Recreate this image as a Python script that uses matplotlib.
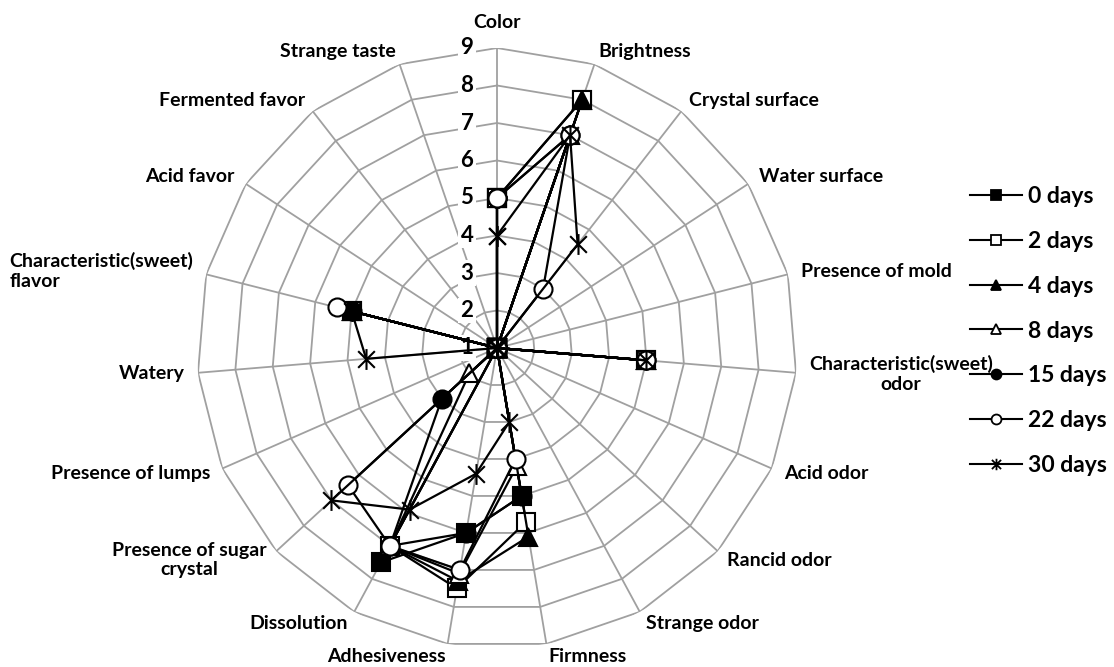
import numpy as np
import matplotlib
matplotlib.use("Agg")
import matplotlib.pyplot as plt
from matplotlib.path import Path
from matplotlib.lines import Line2D

plt.rcParams['font.family'] = ['Lato', 'DejaVu Sans']
plt.rcParams['font.weight'] = 'bold'

# attributes, clockwise from the top
categories = ["Color", "Brightness", "Crystal surface", "Water surface",
              "Presence of mold", "Characteristic(sweet)\nodor", "Acid odor",
              "Rancid odor", "Strange odor", "Firmness", "Adhesiveness",
              "Dissolution", "Presence of sugar\ncrystal", "Presence of lumps",
              "Watery", "Characteristic(sweet)\nflavor", "Acid favor",
              "Fermented favor", "Strange taste"]

d0 = [5, 8, 1, 1, 1, 5, 1, 1, 1, 5.0, 6.0, 7.5, 1.0, 1, 1.0, 5.0, 1, 1, 1]
d2 = [5, 8, 1, 1, 1, 5, 1, 1, 1, 5.7, 7.5, 7.0, 1.0, 1, 1.0, 5.0, 1, 1, 1]
d4 = [1, 8, 1, 1, 1, 5, 1, 1, 1, 6.1, 7.3, 7.0, 1.0, 1, 1.0, 5.0, 1, 1, 1]
d8 = [1, 7, 1, 1, 1, 5, 1, 1, 1, 4.2, 7.1, 7.0, 2.0, 1, 1.0, 5.0, 1, 1, 1]
d15 = [5, 7, 1, 1, 1, 5, 1, 1, 1, 5.0, 6.0, 7.0, 3.0, 1, 1.0, 5.0, 1, 1, 1]
d22 = [5, 7, 3, 1, 1, 5, 1, 1, 1, 4.0, 7.0, 7.0, 6.4, 1, 1.0, 5.4, 1, 1, 1]
d30 = [4, 7, 4.5, 1, 1, 5, 1, 1, 1, 3.0, 4.4, 5.9, 7.0, 1, 4.5, 5.0, 1, 1, 1]

series_names = ["0 days", "2 days", "4 days", "8 days", "15 days", "22 days", "30 days"]
series_vals = [d0, d2, d4, d8, d15, d22, d30]
rings = [1, 2, 3, 4, 5, 6, 7, 8, 9]

# x with a vertical bar, like the spreadsheet "star" marker
asterisk = Path([(-1, -1), (1, 1), (-1, 1), (1, -1), (0, -1.25), (0, 1.25)],
                [Path.MOVETO, Path.LINETO, Path.MOVETO, Path.LINETO,
                 Path.MOVETO, Path.LINETO])
styles = [("s", "black", 13), ("s", "white", 13), ("^", "black", 13),
          ("^", "white", 13), ("o", "black", 13), ("o", "white", 13),
          (asterisk, "none", 15)]

n = len(categories)
theta = np.linspace(0, 2 * np.pi, n, endpoint=False)
theta_c = np.append(theta, theta[0])

fig = plt.figure(figsize=(11.14, 6.67), dpi=100)
ax = fig.add_axes([197 / 1114, 19 / 667, 600 / 1114, 600 / 667], projection="polar")
ax.set_theta_zero_location("N")
ax.set_theta_direction(-1)
ax.set_ylim(1, 9)
ax.grid(False)
ax.set_xticks([])
ax.set_yticks([])
ax.spines["polar"].set_visible(False)

grid_col = "#a0a0a0"
for r in rings[1:]:
    ax.plot(theta_c, [r] * (n + 1), color=grid_col, lw=1.3, zorder=1)
for t in theta:
    ax.plot([t, t], [1, 9], color=grid_col, lw=1.3, zorder=1)

for r in rings:
    ax.annotate(str(r), xy=(0, r), xytext=(-17, 0), textcoords="offset points",
                ha="right", va="center", fontsize=16, fontweight="bold",
                bbox=dict(boxstyle="square,pad=0.1", fc="white", ec="none"),
                zorder=3)

for t, lab in zip(theta, categories):
    s = np.sin(t)
    if s > 0.05:
        ha = "left"
    elif s < -0.05:
        ha = "right"
    else:
        ha = "center"
    if lab == "Color":
        ax.text(t, 9.45, lab, ha="center", va="bottom", fontsize=14)
        continue
    ma = "left" if "flavor" in lab else "center"
    ax.text(t, 9.35, lab, ha=ha, va="center", fontsize=14, multialignment=ma)

handles = []
for name, vals, (mk, fc, ms) in zip(series_names, series_vals, styles):
    ax.plot(theta_c, vals + vals[:1], color="black", lw=1.6, marker=mk, ms=ms,
            mfc=fc, mec="black", mew=1.5, zorder=4, clip_on=False)
    handles.append(Line2D([], [], color="black", lw=1.5, marker=mk,
                          ms=ms * 0.55, mfc=fc, mec="black", mew=1.3))

fig.legend(handles, series_names, loc="center left",
           bbox_to_anchor=(970 / 1114, (667 - 331) / 667), frameon=False,
           handlelength=2.27, handletextpad=0.26, labelspacing=1.04,
           borderpad=0, borderaxespad=0,
           prop={"weight": "bold", "size": 16.5})

fig.savefig("out.png", dpi=100, facecolor="white")
